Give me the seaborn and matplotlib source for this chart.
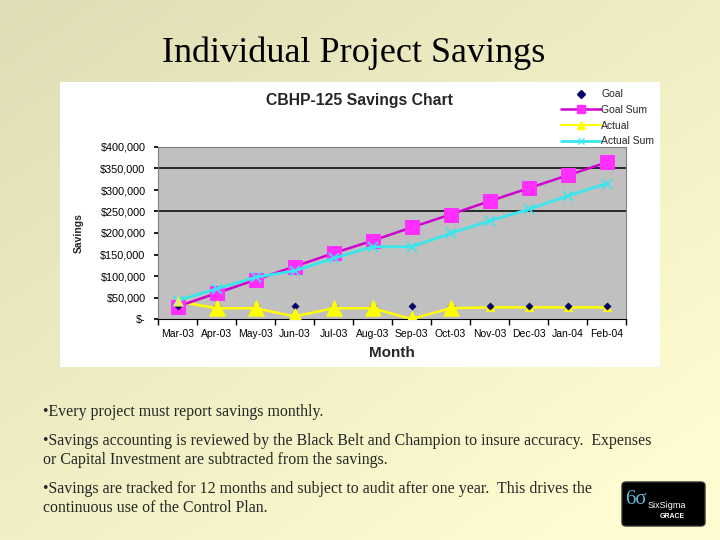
import numpy as np
import pandas as pd
import matplotlib
matplotlib.use("Agg")
import matplotlib.pyplot as plt
import seaborn as sns
from matplotlib.patches import FancyBboxPatch, Rectangle
from matplotlib.lines import Line2D

# ---- data ----
months = ["Mar-03", "Apr-03", "May-03", "Jun-03", "Jul-03", "Aug-03",
          "Sep-03", "Oct-03", "Nov-03", "Dec-03", "Jan-04", "Feb-04"]
goal = [30000, 30000, 30000, 30000, 30000, 30000,
        30000, 30000, 30000, 30000, 30000, 30000]
goal_sum = [29000, 60000, 91000, 122000, 153000, 182000,
            213000, 243000, 274000, 304000, 334000, 364000]
actual = [41000, 25000, 25000, 6000, 25000, 25000,
          0, 25000, 27000, 27000, 27000, 27000]
actual_sum = [43000, 70000, 97000, 112000, 141000, 168000,
              168000, 199000, 228000, 255000, 286000, 315000]
ytick_vals = [0, 50000, 100000, 150000, 200000, 250000, 300000, 350000, 400000]
ytick_labels = ["$-", "$50,000", "$100,000", "$150,000", "$200,000",
                "$250,000", "$300,000", "$350,000", "$400,000"]
grid_vals = [250000, 350000]
bullets = [
    "\u2022Every project must report savings monthly.",
    "\u2022Savings accounting is reviewed by the Black Belt and Champion to insure accuracy.  Expenses\nor Capital Investment are subtracted from the savings.",
    "\u2022Savings are tracked for 12 months and subject to audit after one year.  This drives the\ncontinuous use of the Control Plan.",
]

sns.set_theme(style="white")
plt.rcParams['font.family'] = ['Liberation Sans', 'DejaVu Sans']

W, H = 720, 540
fig = plt.figure(figsize=(7.2, 5.4), dpi=100)

def fx(px):
    return px / W

def fy(py):
    return 1 - py / H

# slide background gradient
bg = fig.add_axes([0, 0, 1, 1], zorder=-5)
xx, yy = np.meshgrid(np.linspace(0, 1, 200), np.linspace(0, 1, 150))
t = np.clip(0.55 * xx + 0.6 * yy, 0, 1)
c0 = np.array([0xdf, 0xdd, 0xb5]) / 255
c1 = np.array([0xfd, 0xfb, 0xcf]) / 255
img = c0[None, None, :] * (1 - t[..., None]) + c1[None, None, :] * t[..., None]
bg.imshow(img, extent=[0, 1, 0, 1], aspect='auto', origin='upper', zorder=0)
bg.set_xlim(0, 1); bg.set_ylim(0, 1)
bg.axis('off')

# white chart panel
bg.add_patch(Rectangle((fx(60), fy(367)), fx(600), 285 / H,
                       facecolor='white', edgecolor='none', zorder=1))
# logo
bg.add_patch(FancyBboxPatch((fx(622), fy(526)), fx(83), 44 / H,
                            boxstyle="round,pad=0,rounding_size=0.006",
                            facecolor='black', edgecolor='#333333', zorder=2))

# slide title
fig.text(fx(354), fy(53), "Individual Project Savings", ha='center', va='center',
         fontsize=26, family=['Liberation Serif'], color='black')

# plot area
ax = fig.add_axes([fx(158), fy(319), fx(468), 172 / H], zorder=2)
ax.set_facecolor('#c0c0c0')
x = np.arange(len(months))
df = pd.DataFrame({"Month": months, "x": x, "Goal": goal, "Goal Sum": goal_sum,
                   "Actual": actual, "Actual Sum": actual_sum})

for gv in grid_vals:
    ax.axhline(gv, color='black', lw=1.1, zorder=1)

sns.lineplot(data=df, x="x", y="Goal Sum", ax=ax, color='#d000d0', lw=1.8,
             marker='s', markersize=9.5, markerfacecolor='#ff30ff',
             markeredgecolor='#ff30ff', zorder=3)
sns.lineplot(data=df, x="x", y="Actual Sum", ax=ax, color='#38e6ec', lw=2.0,
             marker='x', markersize=7, markeredgecolor='#38e6ec',
             markeredgewidth=1.2, zorder=4)
sns.lineplot(data=df, x="x", y="Actual", ax=ax, color='#ffff00', lw=1.8, zorder=2)
sns.scatterplot(data=df, x="x", y="Goal", ax=ax, marker='D', s=14, color='#000066',
                edgecolor='#000066', zorder=3, legend=False)
first = df.iloc[:1]
big = df.iloc[1:8]
small = df.iloc[8:]
sns.scatterplot(data=first, x="x", y="Actual", ax=ax, marker='^', s=45,
                color='#e8f060', edgecolor='#e8f060', zorder=4.5, legend=False)
sns.scatterplot(data=big, x="x", y="Actual", ax=ax, marker='^', s=120,
                color='#ffff00', edgecolor='#ffff00', zorder=5, legend=False)
sns.scatterplot(data=small, x="x", y="Actual", ax=ax, marker='^', s=35,
                color='#ffff00', edgecolor='#ffff00', zorder=2.5, legend=False)

ax.set_xlim(-0.5, len(months) - 0.5)
ax.set_ylim(0, 400000)
ax.set_xticks(x)
ax.set_xticklabels(months, fontsize=7.5, color='black')
ax.set_xticks(np.arange(-0.5, len(months), 1), minor=True)
ax.tick_params(axis='x', which='major', length=0, pad=7)
ax.tick_params(axis='x', which='minor', length=4, direction='out', color='black',
               bottom=True)
ax.set_yticks(ytick_vals)
ax.set_yticklabels(ytick_labels, fontsize=7.8, color='black')
ax.tick_params(axis='y', length=3, direction='out', color='black', left=True, pad=6)
ax.set_xlabel("Month", fontsize=11, fontweight='bold', labelpad=5)
ax.set_ylabel("Savings", fontsize=7.5, fontweight='bold', labelpad=12)
ax.grid(False)
for s in ax.spines.values():
    s.set_color('#808080')
    s.set_linewidth(0.8)
ax.spines['bottom'].set_color('black')

fig.text(fx(360), fy(101), "CBHP-125 Savings Chart", ha='center', va='center',
         fontsize=11.3, fontweight='bold')

# legend
handles = [
    Line2D([], [], color='none', marker='D', markersize=4, markerfacecolor='#000066',
           markeredgecolor='#000066'),
    Line2D([], [], color='#d000d0', lw=1.8, marker='s', markersize=6,
           markerfacecolor='#ff30ff', markeredgecolor='#ff30ff'),
    Line2D([], [], color='#ffff00', lw=1.5, marker='^', markersize=6,
           markerfacecolor='#ffff00', markeredgecolor='#ffff00'),
    Line2D([], [], color='#38e6ec', lw=2, marker='x', markersize=5,
           markeredgecolor='#38e6ec'),
]
fig.legend(handles, ["Goal", "Goal Sum", "Actual", "Actual Sum"],
           loc='upper left', bbox_to_anchor=(fx(557), fy(85)), frameon=False,
           fontsize=7.5, handlelength=3.8, labelspacing=0.55, handletextpad=0.05,
           borderaxespad=0)

# bullet text
ys = [404, 433, 481]
for yv, b in zip(ys, bullets):
    fig.text(fx(43), fy(yv), b, ha='left', va='top', fontsize=11.4,
             family=['Liberation Serif'], linespacing=1.25)

# logo text
fig.text(fx(636), fy(499), "6\u03c3", ha='center', va='center', fontsize=15,
         color='#5fb8d8', family=['Liberation Serif'])
fig.text(fx(648), fy(505), "SixSigma", ha='left', va='center', fontsize=6.5,
         color='white')
fig.text(fx(660), fy(516), "GRACE", ha='left', va='center', fontsize=5,
         color='white', fontweight='bold')

fig.savefig("out.png", dpi=100)
